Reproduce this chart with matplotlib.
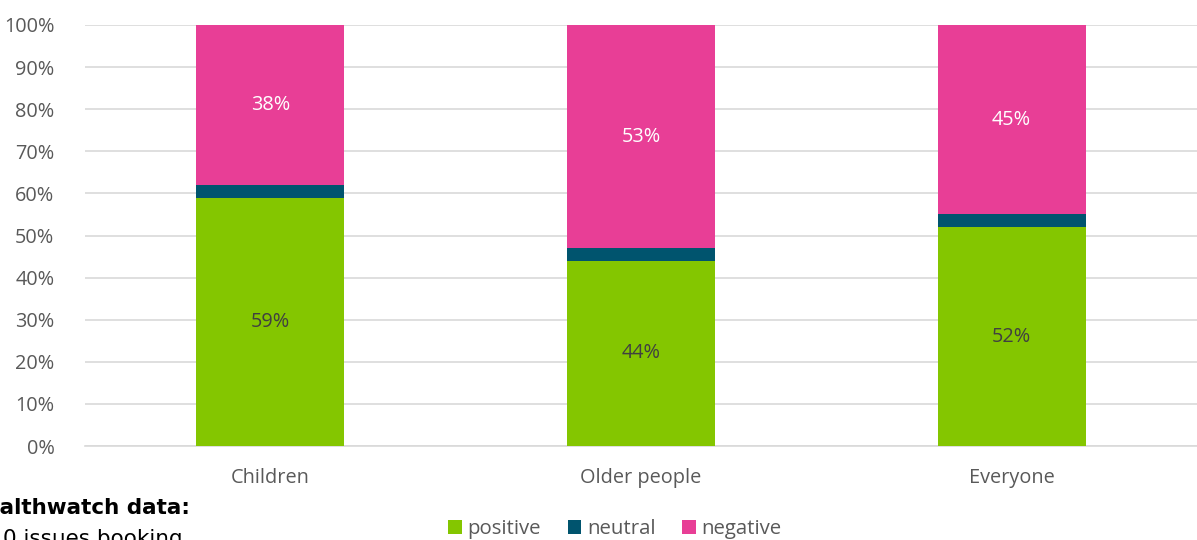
import matplotlib
matplotlib.use("Agg")
import matplotlib.pyplot as plt
from matplotlib.ticker import MultipleLocator, FuncFormatter

categories = ["Children", "Older people", "Everyone"]
positive = [59, 44, 52]
neutral = [3, 3, 3]
negative = [38, 53, 45]

c_pos = "#84C600"
c_neu = "#00546E"
c_neg = "#E83E96"

plt.rcParams["font.family"] = ["Open Sans", "DejaVu Sans"]
fs = 14.3

fig = plt.figure(figsize=(11.97, 5.40), dpi=100)
ax = fig.add_axes([85 / 1197, 1 - 446 / 540, 1 - 85 / 1197, (446 - 25) / 540])

x = list(range(len(categories)))
w = 0.4
bp = ax.bar(x, positive, w, color=c_pos, label="positive", zorder=3)
bn = ax.bar(x, neutral, w, bottom=positive, color=c_neu, label="neutral", zorder=3)
bottom3 = [p + n for p, n in zip(positive, neutral)]
bg = ax.bar(x, negative, w, bottom=bottom3, color=c_neg, label="negative", zorder=3)

for i in x:
    ax.text(i, positive[i] / 2, f"{positive[i]}%", ha="center", va="center",
            fontsize=fs, color="#404040", zorder=4)
    ax.text(i, bottom3[i] + negative[i] / 2, f"{negative[i]}%", ha="center",
            va="center", fontsize=fs, color="white", zorder=4)

ax.set_xlim(-0.5, 2.5)
ax.set_ylim(0, 100)
ax.yaxis.set_major_locator(MultipleLocator(10))
ax.yaxis.set_major_formatter(FuncFormatter(lambda v, p: f"{int(round(v))}%"))
ax.grid(axis="y", color="#D9D9D9", linewidth=1.2, zorder=0)
ax.set_xticks(x)
ax.set_xticklabels(categories)
ax.tick_params(axis="both", length=0, labelsize=fs, labelcolor="#595959")
ax.tick_params(axis="x", pad=16)
ax.tick_params(axis="y", pad=22)
for s in ax.spines.values():
    s.set_visible(False)
ax.spines["bottom"].set_visible(True)
ax.spines["bottom"].set_color("#D9D9D9")
ax.spines["bottom"].set_linewidth(1.2)

leg = fig.legend(handles=[bp, bn, bg], loc="center", bbox_to_anchor=(615 / 1197, 1 - 529 / 540),
                 ncol=3, frameon=False, fontsize=fs + 0.4, handlelength=0.65, handleheight=0.65,
                 handletextpad=0.3, columnspacing=1.3)
for t in leg.get_texts():
    t.set_color("#595959")

fig.text(190 / 1197, 1 - 508 / 540, "Healthwatch data:", ha="right", va="center",
         fontsize=15.5, fontweight="bold", color="black", family="DejaVu Sans")
fig.text(183 / 1197, 1 - 539 / 540, "0 issues booking", ha="right", va="center",
         fontsize=15.5, color="black", family="DejaVu Sans")

fig.savefig("out.png", dpi=100)
